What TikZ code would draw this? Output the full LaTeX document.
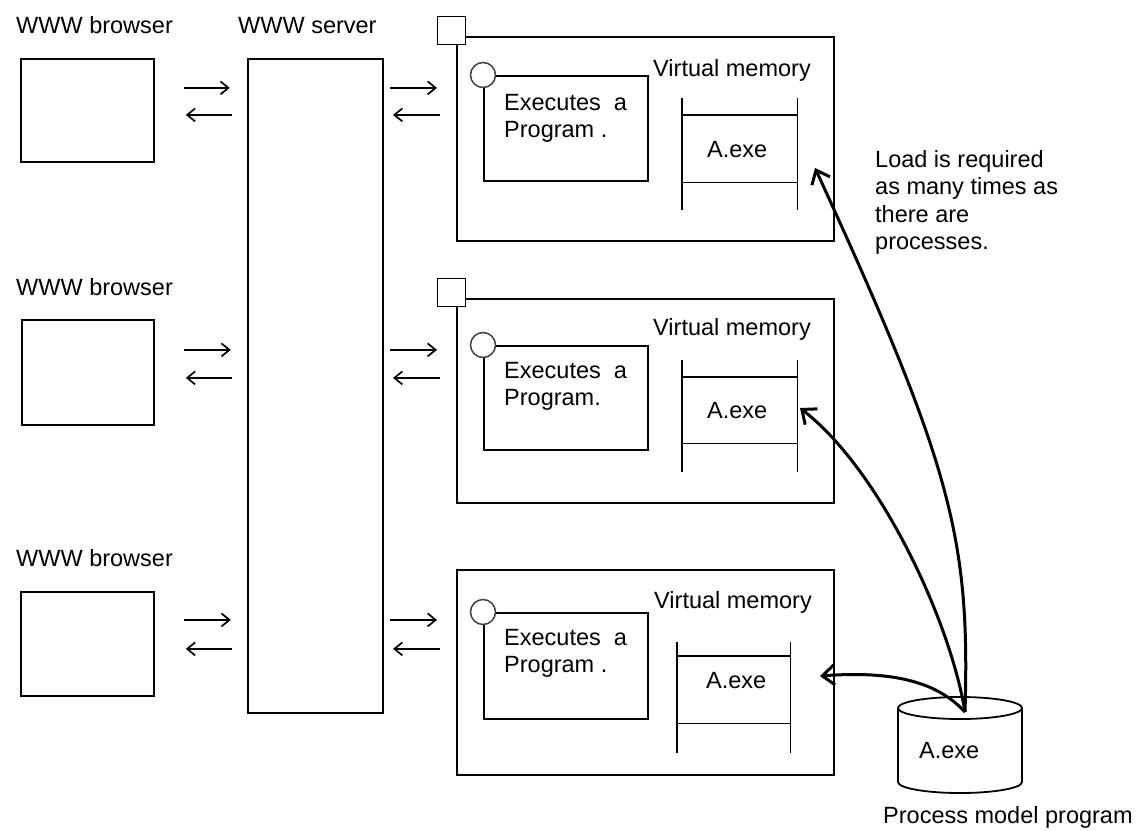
\documentclass[tikz,border=0pt]{standalone}
\usepackage{fontspec}
\setmainfont{Liberation Sans}
\usetikzlibrary{arrows.meta}
\begin{document}
\begin{tikzpicture}[x=1pt,y=-1pt,
  box/.style={draw,line width=1.8pt,inner sep=0pt,anchor=north west},
  lbl/.style={anchor=base west,inner sep=0pt,font=\fontsize{23.5}{27}\selectfont},
  sarrow/.style={line width=1.7pt,-{Straight Barb[length=8pt,width=13pt,line width=1.7pt]}},
  barrow/.style={line width=3pt,-{Straight Barb[length=12pt,width=20pt,line width=3pt]}},
  rail/.style={line width=1.8pt},
  corner/.style={draw,line width=1.8pt,fill=white,minimum size=28pt,inner sep=0pt},
  knob/.style={draw=black!75,line width=1.5pt,fill=white,circle,minimum size=25pt,inner sep=0pt}
]
\useasboundingbox (0,0) rectangle (1140,830);

% browsers
\node[lbl] (bl1) at (16,33) {WWW browser};
\node[lbl] (bl2) at (16,295) {WWW browser};
\node[lbl] (bl3) at (16,566) {WWW browser};
\node[box,minimum width=133pt,minimum height=103pt] (br1) at (20,58) {};
\node[box,minimum width=132pt,minimum height=105pt] (br2) at (21,319) {};
\node[box,minimum width=133pt,minimum height=104pt] (br3) at (20,591) {};

% server
\node[lbl] (sl) at (238,33) {WWW server};
\node[box,minimum width=135pt,minimum height=654pt] (srv) at (247,58) {};

% process boxes
\node[box,minimum width=377pt,minimum height=204pt] (p1) at (456,36) {};
\node[box,minimum width=377pt,minimum height=204pt] (p2) at (456,298) {};
\node[box,minimum width=377pt,minimum height=205pt] (p3) at (456,569) {};
\node[corner] (sq1) at (451.5,30.5) {};
\node[corner] (sq2) at (451.5,292.5) {};

% arrows browser <-> server
\draw[sarrow] ([shift={(29,-22.5)}]br1.east) -- ++(46,0);
\draw[sarrow] ([shift={(77,4.5)}]br1.east) -- ++(-46,0);
\draw[sarrow] ([shift={(29,-22.5)}]br2.east) -- ++(47,0);
\draw[sarrow] ([shift={(77,5.5)}]br2.east) -- ++(-46,0);
\draw[sarrow] ([shift={(29,-24)}]br3.east) -- ++(47,0);
\draw[sarrow] ([shift={(77,5)}]br3.east) -- ++(-46,0);

% arrows server <-> process boxes
\draw[sarrow] ([shift={(-66,-51)}]p1.west) -- ++(47,0);
\draw[sarrow] ([shift={(-16,-24)}]p1.west) -- ++(-47,0);
\draw[sarrow] ([shift={(-66,-51)}]p2.west) -- ++(47,0);
\draw[sarrow] ([shift={(-16,-23)}]p2.west) -- ++(-47,0);
\draw[sarrow] ([shift={(-66,-52.5)}]p3.west) -- ++(47,0);
\draw[sarrow] ([shift={(-16,-23.5)}]p3.west) -- ++(-47,0);

% inner program boxes
\node[box,minimum width=164pt,minimum height=105pt] (i1) at (483,75) {};
\node[box,minimum width=164pt,minimum height=104pt] (i2) at (483,345) {};
\node[box,minimum width=164pt,minimum height=106pt] (i3) at (483,612) {};
\node[knob] (c1) at (i1.north west) {};
\node[knob] (c2) at (i2.north west) {};
\node[knob] (c3) at (i3.north west) {};
\node[lbl] (e1a) at (504,110) {Executes\ \ a};
\node[lbl] (e1b) at (504,137) {Program .};
\node[lbl] (e2a) at (504,378) {Executes\ \ a};
\node[lbl] (e2b) at (504,405) {Program.};
\node[lbl] (e3a) at (504,645) {Executes\ \ a};
\node[lbl] (e3b) at (504,672) {Program .};

% virtual memory
\node[lbl] (v1) at (653,76) {Virtual memory};
\node[lbl] (v2) at (653,335) {Virtual memory};
\node[lbl] (v3) at (654,608) {Virtual memory};

% memory rails
\node[inner sep=0pt,minimum width=115pt,minimum height=67pt,anchor=north west] (m1) at (682,115) {};
\node[inner sep=0pt,minimum width=115pt,minimum height=66pt,anchor=north west] (m2) at (682,377) {};
\node[inner sep=0pt,minimum width=113pt,minimum height=67pt,anchor=north west] (m3) at (677,656) {};
\foreach \m/\up/\dn in {m1/17/28,m2/17/29,m3/14/30}{
  \draw[rail] (\m.north west) -- (\m.north east);
  \draw[rail] (\m.south west) -- (\m.south east);
  \draw[rail] ([yshift=\up pt]\m.north west) -- ([yshift=-\dn pt]\m.south west);
  \draw[rail] ([yshift=\up pt]\m.north east) -- ([yshift=-\dn pt]\m.south east);
}
\node[lbl] (a1) at (707,157) {A.exe};
\node[lbl] (a2) at (707,418) {A.exe};
\node[lbl] (a3) at (706,688) {A.exe};

% cylinder
\fill[white] (898,708) -- (898,782) arc[start angle=180,end angle=0,x radius=62,y radius=11] -- (1022,708) -- cycle;
\draw[line width=1.8pt] (960,708) ellipse [x radius=62,y radius=11];
\draw[line width=1.8pt] (898,708) -- (898,782) arc[start angle=180,end angle=0,x radius=62,y radius=11] -- (1022,708);
\node[lbl] (cyl) at (919,758) {A.exe};
\node[lbl] (pmp) at (883,823) {Process model program};
\coordinate (src) at (965,712);

% load arrows
\coordinate (t1) at (815,168);
\coordinate (t2) at (800,408);
\coordinate (t3) at (820,676);
\draw[barrow] (src) .. controls (970,540) and (953,468) .. (t1);
\draw[barrow] (src) .. controls (950,620) and (880,470) .. (t2);
\draw[barrow] (src) .. controls (940,685) and (900,670) .. (t3);

% note
\node[lbl] (n1) at (875,167) {Load is required};
\node[lbl] (n2) at (875,194.5) {as many times as};
\node[lbl] (n3) at (875,222) {there are};
\node[lbl] (n4) at (875,249.5) {processes.};
\end{tikzpicture}
\end{document}
